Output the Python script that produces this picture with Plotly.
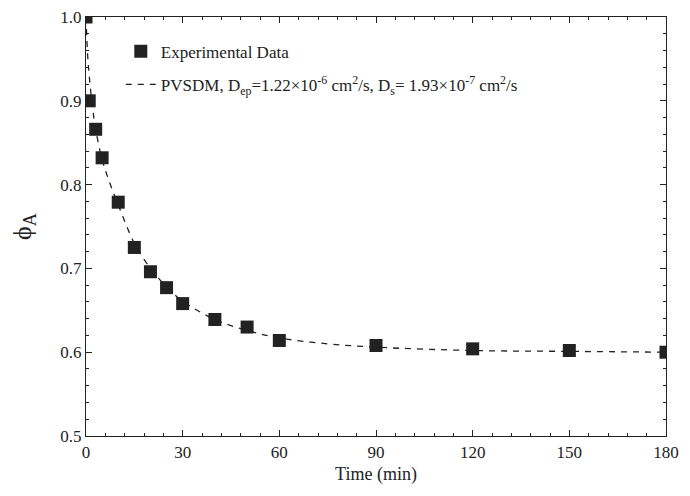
import plotly.graph_objects as go

# Experimental data
t_exp = [0, 1, 3, 5, 10, 15, 20, 25, 30, 40, 50, 60, 90, 120, 150, 180]
phi_exp = [1.0, 0.900, 0.866, 0.832, 0.779, 0.725, 0.696, 0.677, 0.658, 0.639, 0.630, 0.614, 0.608, 0.604, 0.602, 0.600]

# Model curve
t_mod = [0, 0.5, 1, 2, 3, 5, 7, 10, 15, 20, 25, 30, 40, 50, 60, 75, 90, 120, 150, 180]
phi_mod = [1.0, 0.955, 0.930, 0.893, 0.866, 0.830, 0.806, 0.776, 0.730, 0.700, 0.678, 0.661, 0.639, 0.626, 0.617, 0.610, 0.606, 0.602, 0.601, 0.600]

x_ticks = [0, 30, 60, 90, 120, 150, 180]
y_ticks = [0.5, 0.6, 0.7, 0.8, 0.9, 1.0]

font_family = "Liberation Serif"

fig = go.Figure()
fig.add_trace(go.Scatter(
    x=t_exp, y=phi_exp, mode="markers", name="Experimental Data",
    legendgroup="a",
    marker=dict(symbol="square", size=13, color="#222222"),
))
fig.add_trace(go.Scatter(
    x=t_mod, y=phi_mod, mode="lines", line_shape="spline",
    legendgroup="b",
    name="PVSDM, D<sub>ep</sub>=1.22×10<sup>-6</sup> cm<sup>2</sup>/s, D<sub>s</sub>= 1.93×10<sup>-7</sup> cm<sup>2</sup>/s",
    line=dict(color="#222222", width=1.3, dash="6px,6px"),
))

axis_common = dict(
    showgrid=False, zeroline=False, showline=True, linecolor="#222222", linewidth=1.2,
    mirror="allticks", ticks="inside", ticklen=6, tickcolor="#222222", tickwidth=1,
    tickfont=dict(family=font_family, size=17, color="#222222"),
    automargin=False, ticklabeloverflow="allow",
)

# page body has an 8px margin, so the figure is sized/offset to compensate
fig.update_layout(
    width=682, height=488,
    margin=dict(l=78, r=24, t=9, b=60),
    paper_bgcolor="white", plot_bgcolor="white",
    font=dict(family=font_family, color="#222222", size=17),
    xaxis=dict(
        range=[0, 180], tickvals=x_ticks, ticktext=[str(v) for v in x_ticks],
        minor=dict(dtick=6, ticks="inside", ticklen=3, tickcolor="#222222"),
        title=dict(text="Time (min)", font=dict(family=font_family, size=18), standoff=6),
        **axis_common,
    ),
    yaxis=dict(
        range=[0.5, 1.0], tickvals=y_ticks, ticktext=[f"{v:.1f}" for v in y_ticks],
        minor=dict(dtick=0.02, ticks="inside", ticklen=3, tickcolor="#222222"),
        title=dict(text="ϕ<sub>A</sub>", font=dict(family=font_family, size=26), standoff=24),
        **axis_common,
    ),
    legend=dict(
        x=0.06, y=0.96, xanchor="left", yanchor="top",
        bgcolor="rgba(0,0,0,0)", borderwidth=0,
        font=dict(family=font_family, size=17, color="#222222"),
        traceorder="grouped", tracegroupgap=8, itemwidth=30,
    ),
    showlegend=True,
)

fig.write_html("out.html")
